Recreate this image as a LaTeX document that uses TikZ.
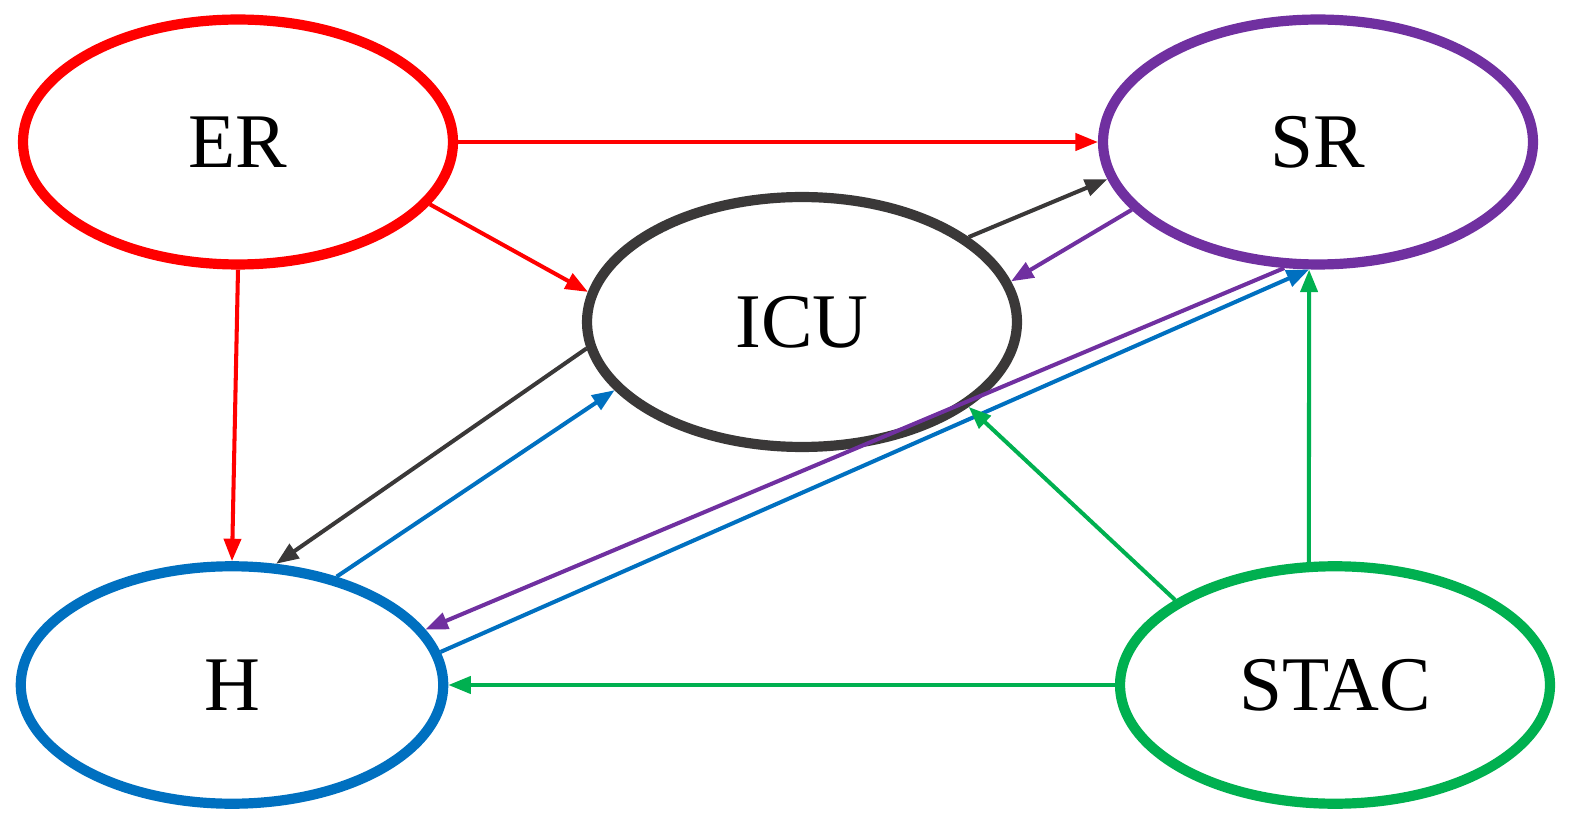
\documentclass[tikz,border=0pt]{standalone}
\usepackage{fontspec}
\setmainfont{Liberation Serif}
\usetikzlibrary{shapes.geometric,arrows.meta}
\definecolor{cR}{HTML}{FF0000}
\definecolor{cP}{HTML}{7030A0}
\definecolor{cK}{HTML}{3A3838}
\definecolor{cB}{HTML}{0070C0}
\definecolor{cG}{HTML}{00B050}
\begin{document}
\begin{tikzpicture}[x=0.02cm,y=-0.02cm,
 st/.style={ellipse,draw=#1,line width=5.8pt,minimum width=8.6cm,minimum height=4.9cm,font=\fontsize{44}{44}\selectfont},
 ar/.style={draw=#1,line width=2.3pt,-{Triangle[length=0.45cm,width=0.34cm]}}]
\useasboundingbox (0,0) rectangle (1584,837);
\node[st=cR] (ER) at (238,142) {ER};
\node[st=cP] (SR) at (1318,142) {SR};
\node[st=cK,minimum height=5.0cm] (ICU) at (802,322) {ICU};
\node[st=cB,minimum width=8.45cm,minimum height=4.75cm] (H) at (232,685) {H};
\node[st=cG,minimum height=4.75cm] (STAC) at (1335,685) {STAC};
\draw[ar=cR] (ER.east) -- (SR.west);
\draw[ar=cR] (ER.-18) -- (ICU.172);
\draw[ar=cR] (ER.south) -- (H.north);
\draw[ar=cK] (ICU.27) -- (SR.190);
\draw[ar=cP] (SR.200) -- (ICU.11);
\draw[ar=cK] (ICU.187) -- (H.70);
\draw[ar=cB] (H.46) -- (ICU.200);
\draw[ar=cP] (SR.255) -- (H.16);
\draw[ar=cB] (H.9) -- (SR.266);
\draw[ar=cG] (STAC.152) -- (ICU.333);
\draw[ar=cG] (STAC.102) -- (SR.266 |- SR.south);
\draw[ar=cG] (STAC.west) -- (H.east);
\end{tikzpicture}
\end{document}
